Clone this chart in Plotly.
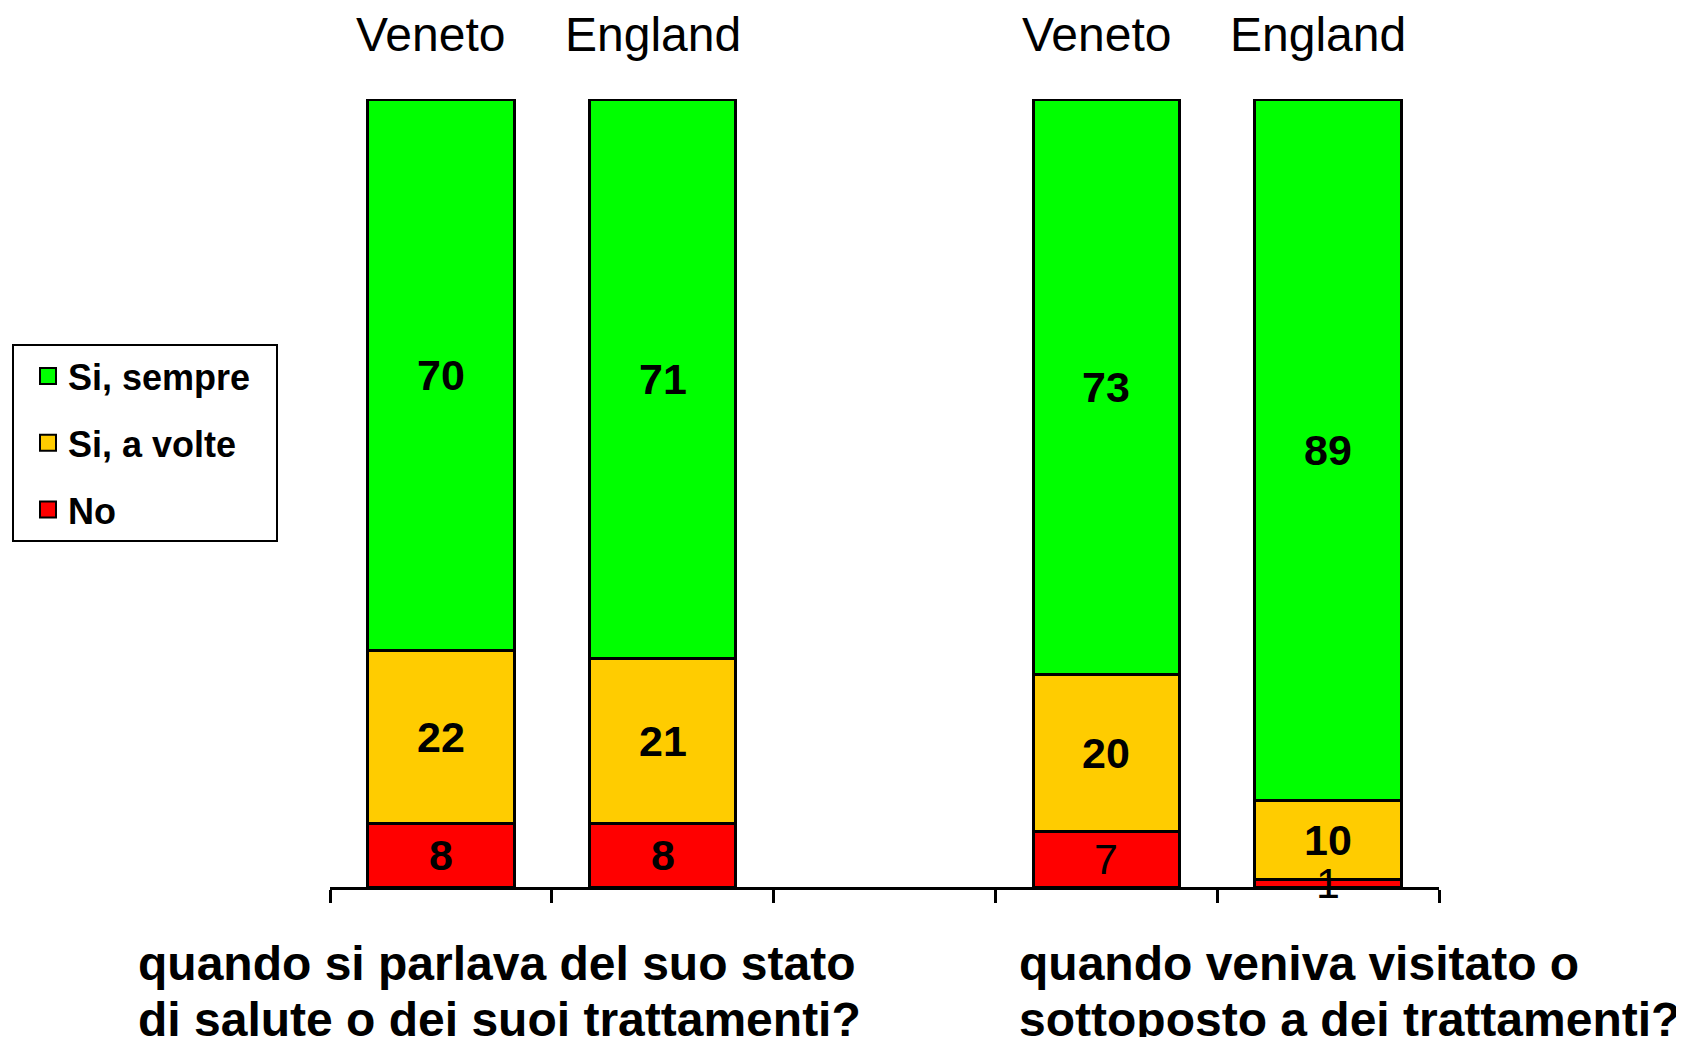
import plotly.graph_objects as go

# ---- data ----
slot_ids = ["q1_veneto", "q1_england", "gap", "q2_veneto", "q2_england"]
region_labels = ["Veneto", "England", "", "Veneto", "England"]
series_names = ["No", "Si, a volte", "Si, sempre"]
no_vals = [8, 8, None, 7, 1]
a_volte_vals = [22, 21, None, 20, 10]
sempre_vals = [70, 71, None, 73, 89]
question_lines = [
    ["quando si parlava del suo stato", "di salute o dei suoi trattamenti?"],
    ["quando veniva visitato o", "sottoposto a dei trattamenti?"],
]

# ---- style ----
colors = {"No": "#FF0000", "Si, a volte": "#FFCC00", "Si, sempre": "#00FF00"}
FONT = "Liberation Sans, Arial, Helvetica, sans-serif"
light_labels = {("No", "q2_veneto"), ("No", "q2_england")}
LEGEND_PAD = "\u00a0\u00a0"   # widens the legend box a little

series_vals = {"No": no_vals, "Si, a volte": a_volte_vals, "Si, sempre": sempre_vals}

# page has an 8px body margin; figure is sized to fill the rest of the window
W, H = 1668, 1029
PL, PT, PR, PB = 322, 91, 1431, 879   # plot area in figure pixels
plot_w, plot_h = PR - PL, PB - PT

fig = go.Figure()
for name in series_names:
    fig.add_trace(go.Bar(
        x=slot_ids, y=series_vals[name], name=name,
        marker=dict(color=colors[name], line=dict(color="black", width=3)),
        width=0.66, showlegend=False, hoverinfo="skip",
    ))

# legend entries (top to bottom)
for i, name in enumerate(["Si, sempre", "Si, a volte", "No"]):
    fig.add_trace(go.Scatter(
        x=[None], y=[None], mode="markers", name=name + LEGEND_PAD, legendgroup=str(i),
        marker=dict(symbol="square", size=16, color=colors[name],
                    line=dict(color="black", width=2)),
    ))

annotations = []
# value labels, centred in each segment
for j, sid in enumerate(slot_ids):
    base = 0
    for name in series_names:
        v = series_vals[name][j]
        if v is None:
            continue
        annotations.append(dict(
            x=sid, y=base + v / 2, xref="x", yref="y", text=str(v), showarrow=False,
            font=dict(family=FONT, size=43, color="black",
                      weight="normal" if (name, sid) in light_labels else "bold"),
            xanchor="center", yanchor="middle",
        ))
        base += v

# region labels on top
for sid, lab in zip(slot_ids, region_labels):
    if lab:
        annotations.append(dict(
            x=sid, y=1, xref="x", yref="paper", text=lab, showarrow=False,
            font=dict(family=FONT, size=48, color="black"),
            xanchor="center", yanchor="middle", yshift=65, xshift=-10,
        ))

# question texts below
q_x_px = [128, 1009]   # figure pixels
for qi, lines in enumerate(question_lines):
    for li, line in enumerate(lines):
        annotations.append(dict(
            x=(q_x_px[qi] - PL) / plot_w, y=0, xref="paper", yref="paper",
            text=line, showarrow=False,
            font=dict(family=FONT, size=48, color="black", weight="bold"),
            xanchor="left", yanchor="middle", yshift=-(76 + 56 * li),
        ))

fig.update_layout(
    width=W, height=H,
    margin=dict(l=PL, r=W - PR, t=PT, b=H - PB, autoexpand=False),
    paper_bgcolor="white", plot_bgcolor="white",
    barmode="stack",
    font=dict(family=FONT, color="black"),
    showlegend=True,
    legend=dict(
        x=(4 - PL) / plot_w, y=(PB - 336) / plot_h, xanchor="left", yanchor="top",
        bgcolor="white", bordercolor="black", borderwidth=2,
        font=dict(family=FONT, size=36, color="black", weight="bold"),
        traceorder="grouped", tracegroupgap=17, itemsizing="trace",
        indentation=14,
    ),
    annotations=annotations,
    xaxis=dict(
        type="category", categoryorder="array", categoryarray=slot_ids,
        range=[-0.5, len(slot_ids) - 0.5],
        showline=True, linecolor="black", linewidth=3,
        ticks="outside", tickson="boundaries", ticklen=13, tickwidth=2.5, tickcolor="black",
        showticklabels=False, showgrid=False, zeroline=False, fixedrange=True,
    ),
    yaxis=dict(
        range=[0, 100], visible=False, showgrid=False, zeroline=False, fixedrange=True,
    ),
)

fig.write_html("out.html")
